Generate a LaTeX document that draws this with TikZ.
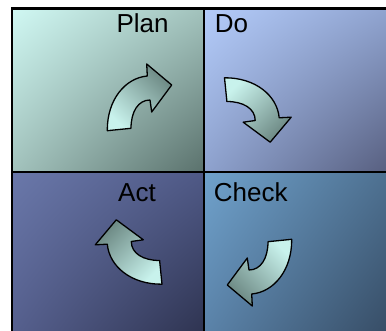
\documentclass[tikz,border=0pt]{standalone}
\usepackage{fontspec}
\setmainfont{Liberation Sans}
\usetikzlibrary{shadings}
\definecolor{planUL}{HTML}{D0F8F3}
\definecolor{planM}{HTML}{A2C2BC}
\definecolor{planLR}{HTML}{5A716C}
\definecolor{doUL}{HTML}{B4CCFA}
\definecolor{doM}{HTML}{8EA2CE}
\definecolor{doLR}{HTML}{555C7C}
\definecolor{actUL}{HTML}{6A78AA}
\definecolor{actUR}{HTML}{4F5986}
\definecolor{actLL}{HTML}{555F8D}
\definecolor{actLR}{HTML}{2E3350}
\definecolor{chkUL}{HTML}{70A2CC}
\definecolor{chkUR}{HTML}{4C6E8E}
\definecolor{chkLL}{HTML}{5A82A8}
\definecolor{chkLR}{HTML}{354A62}
\definecolor{arrLight}{HTML}{C8F2EC}
\definecolor{arrDark}{HTML}{6C8883}
\begin{document}
\begin{tikzpicture}[x=1pt,y=-1pt,
  pdca shape/.style={insert path={(-32.2,33.7) .. controls (-32.5,3) and (-14.5,-19) .. (7.8,-21) -- (7.2,-33) -- (32.2,-12) -- (12.2,15) -- (10.5,3) .. controls (-1.5,3) and (-8.5,15) .. (-8.5,31.3) -- cycle}},
  arrowbox/.style={draw=black, line width=1.3pt, line join=round, top color=arrDark, bottom color=arrLight},
  label/.style={font=\fontsize{26}{26}\selectfont, inner sep=0pt, anchor=base west},
  frame/.style={draw=black, line width=2.2pt}]
\useasboundingbox (0,0) rectangle (386,331);
\clip (0,0) rectangle (386,331);
% quadrants
\shade[upper left=planUL, upper right=planM, lower left=planM, lower right=planLR] (12,8.5) rectangle (204,172);
\shade[upper left=doUL, upper right=doM, lower left=doM, lower right=doLR] (204,8.5) rectangle (396,172);
\shade[upper left=actUL, upper right=actUR, lower left=actLL, lower right=actLR] (12,172) rectangle (204,335);
\shade[upper left=chkUL, upper right=chkUR, lower left=chkLL, lower right=chkLR] (204,172) rectangle (396,335);
% frame
\draw[frame] (12,8.5) rectangle (400,345);
\draw[frame] (204,8.5) -- (204,345);
\draw[frame] (12,172) -- (400,172);
% labels
\node[label] (plan) at (116.3,32.7) {Plan};
\node[label] (do) at (214.7,32.7) {Do};
\node[label] (act) at (118,201.3) {Act};
\node[label] (check) at (213.7,201.3) {Check};
% arrows
\shadedraw[arrowbox, shading angle=-45, shift={(139.5,97)}] [pdca shape];
\shadedraw[arrowbox, shading angle=-135, shift={(258.2,110)}, rotate=-90] [pdca shape];
\shadedraw[arrowbox, shading angle=135, shift={(259.5,273)}, rotate=180] [pdca shape];
\shadedraw[arrowbox, shading angle=45, shift={(128.3,252)}, rotate=90] [pdca shape];
\end{tikzpicture}
\end{document}
